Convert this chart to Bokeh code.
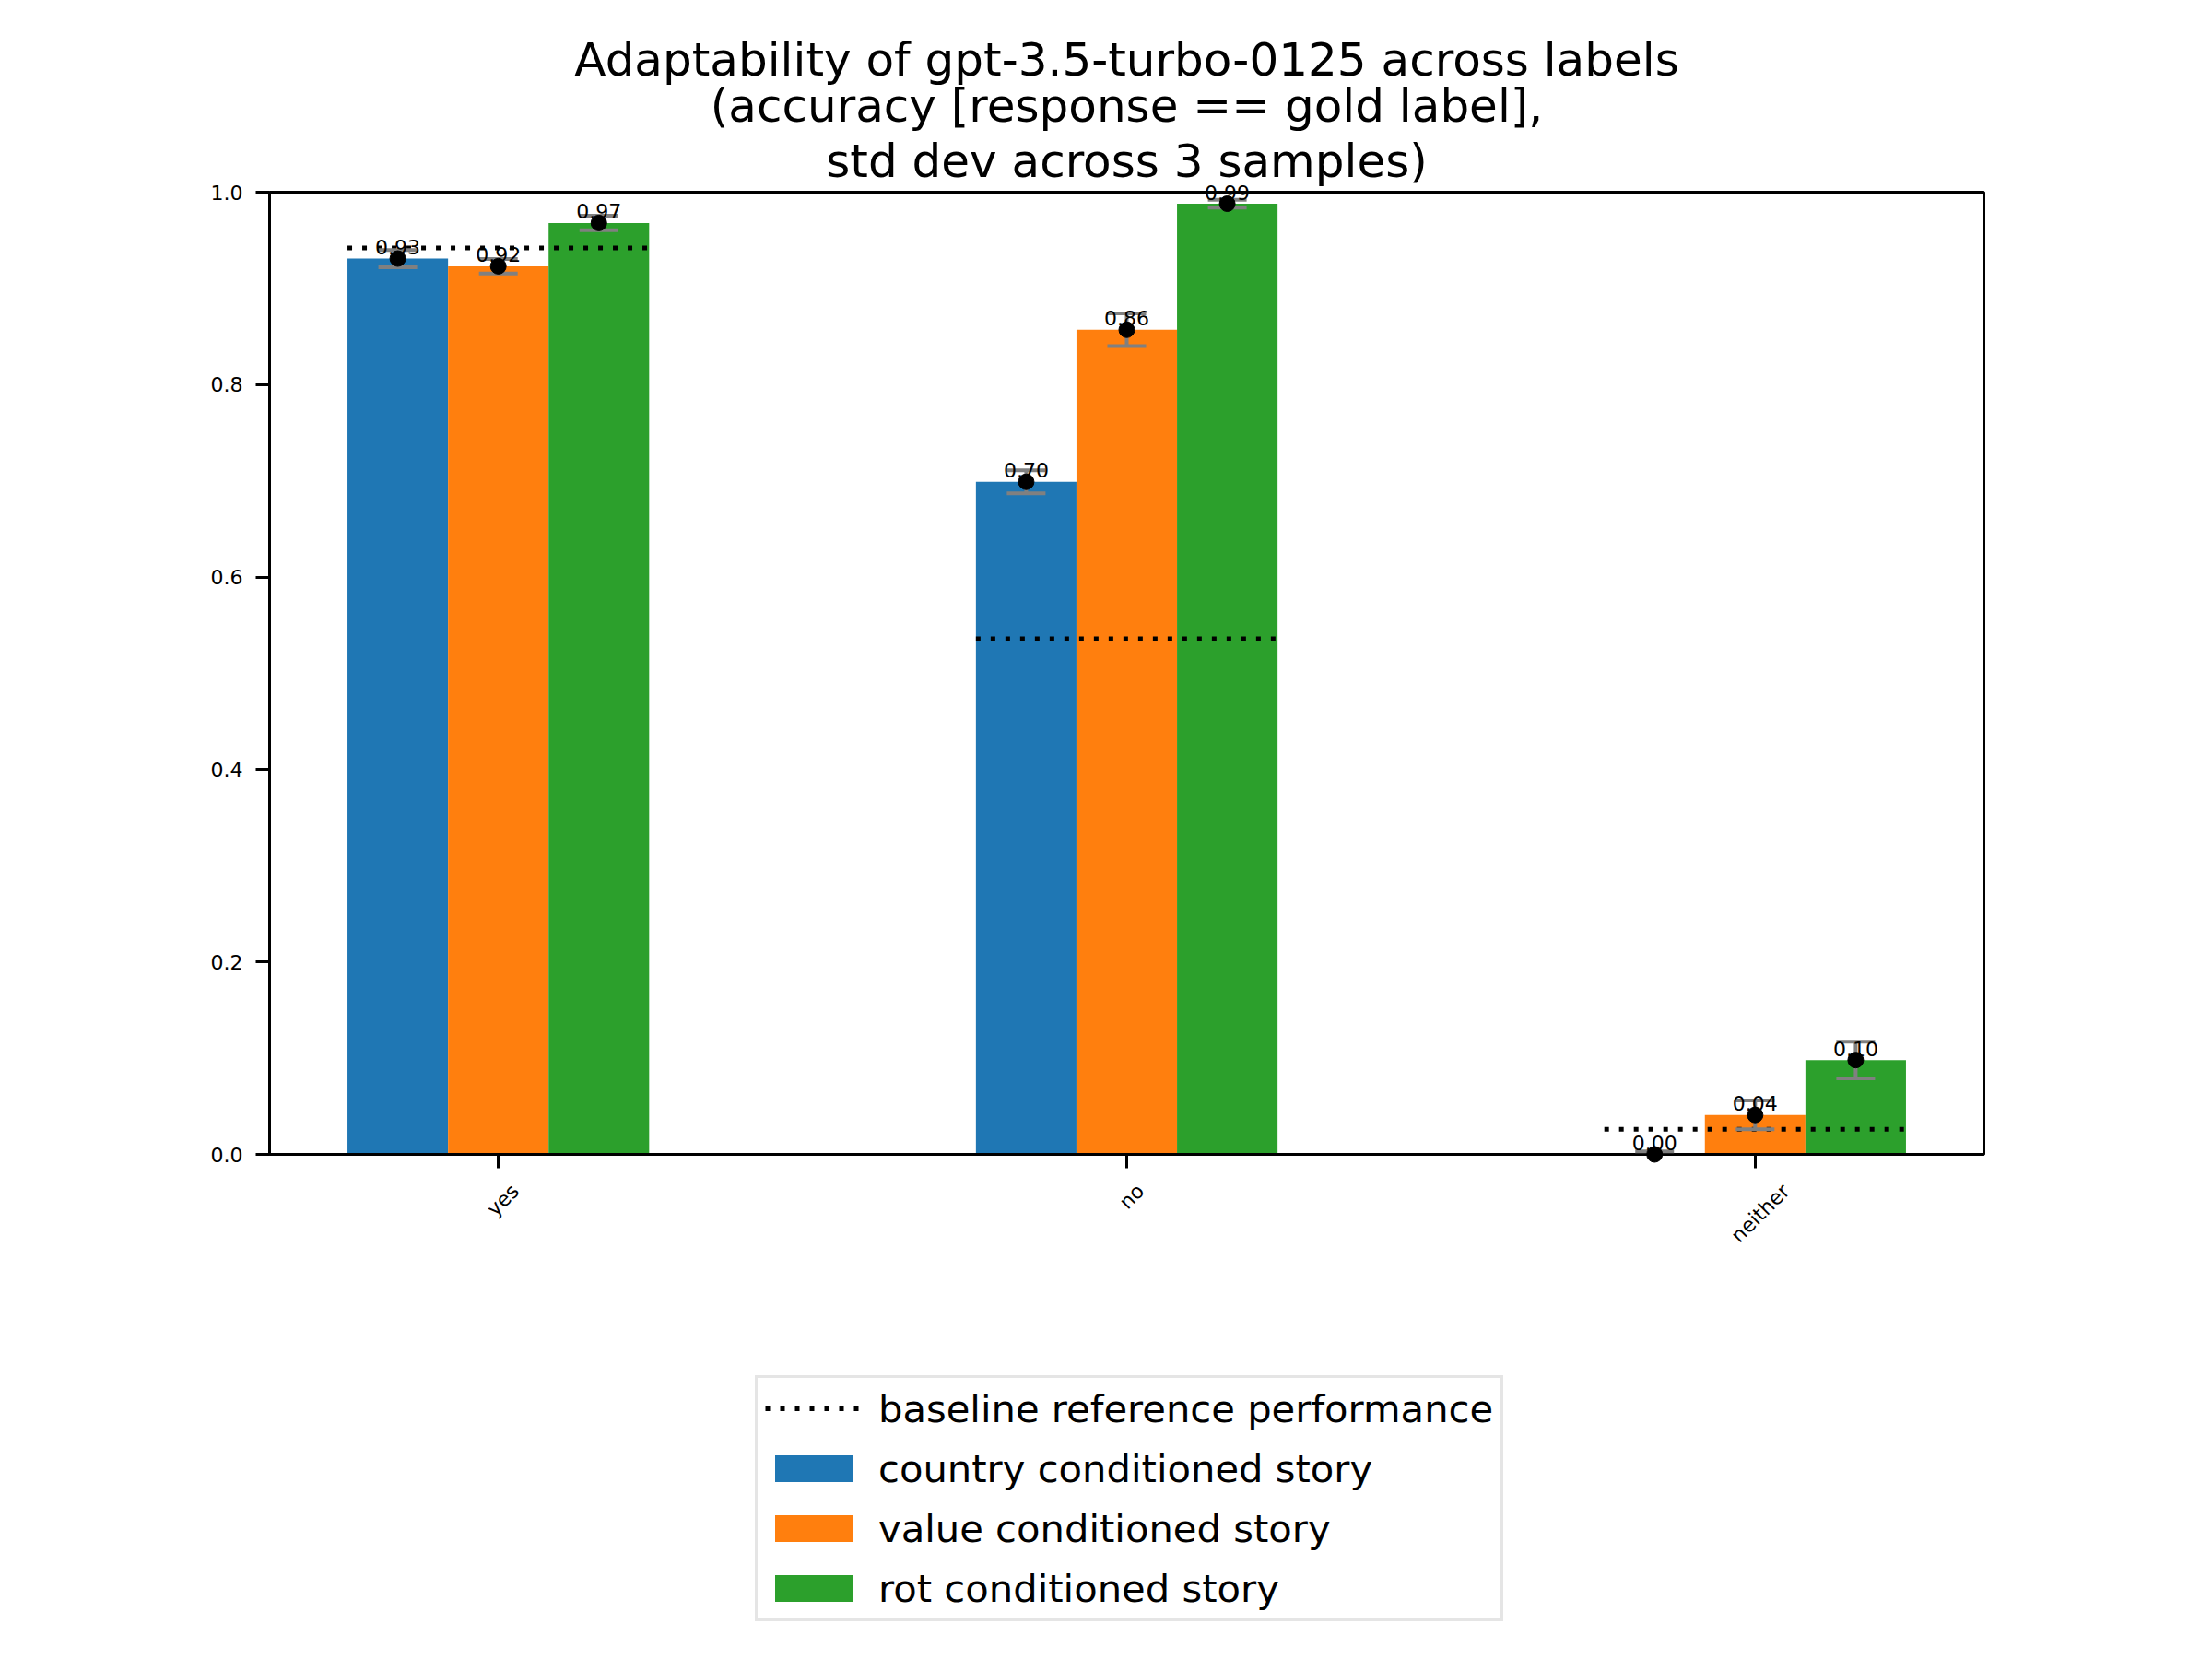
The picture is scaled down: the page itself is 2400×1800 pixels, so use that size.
import math
import numpy as np
from bokeh.plotting import figure
from bokeh.layouts import column
from bokeh.models import (ColumnDataSource, Range1d, FixedTicker, Legend, LegendItem,
                          Whisker, TeeHead, PrintfTickFormatter, Title, LinearAxis)
from bokeh.core.properties import value
from bokeh.embed import file_html
from bokeh.resources import INLINE

# ---- data ----
labels = ["yes", "no", "neither"]
series_names = ["country conditioned story", "value conditioned story", "rot conditioned story"]
baseline_name = "baseline reference performance"
country_mean = [0.931, 0.699, 0.0]
country_std = [0.009, 0.012, 0.003]
value_mean = [0.923, 0.857, 0.041]
value_std = [0.0075, 0.017, 0.015]
rot_mean = [0.968, 0.988, 0.098]
rot_std = [0.0075, 0.004, 0.019]
baseline = [0.942, 0.536, 0.026]
y_ticks = [0.0, 0.2, 0.4, 0.6, 0.8, 1.0]
title_lines = ["Adaptability of gpt-3.5-turbo-0125 across labels",
               "(accuracy [response == gold label],",
               "std dev across 3 samples)"]

# layout-only: nudge so each rotated tick label is centred under its tick
label_nudge = [0.027, 0.022, 0.049]

colors = ["#1f77b4", "#ff7f0e", "#2ca02c"]
means = [country_mean, value_mean, rot_mean]
stds = [country_std, value_std, rot_std]

bar_w = 0.16
offsets = [-bar_w, 0.0, bar_w]
xs = np.arange(len(labels), dtype=float)

FONT = "DejaVu Sans"
W = 2384
H_MAIN = 1412
H_LEG = 1784 - H_MAIN

p = figure(width=W, height=H_MAIN, output_backend="svg", toolbar_location=None,
           x_range=Range1d(-0.364, 2.364), y_range=Range1d(0, 1),
           min_border_left=292, min_border_right=232, min_border_top=208,
           min_border_bottom=H_MAIN - 208 - 1044)

# title: plot title is outermost; added titles stack outward from the frame
p.title.text = title_lines[0]
p.title.align = "center"
p.title.text_font = FONT
p.title.text_font_size = "50px"
p.title.text_font_style = "normal"
p.title.text_color = "black"
p.title.standoff = -10
for k, line in enumerate(reversed(title_lines[1:])):
    t = Title(text=line, align="center", text_font=FONT, text_font_size="50px",
              text_font_style="normal", text_color="black",
              standoff=10 if k == 0 else -10)
    p.add_layout(t, "above")

p.grid.visible = False
p.outline_line_color = "black"
p.outline_line_width = 3
p.background_fill_color = "white"
p.border_fill_color = "white"

srcs = []
for i in range(3):
    m = np.array(means[i])
    s = np.array(stds[i])
    src = ColumnDataSource(dict(
        x=xs + offsets[i], top=m, upper=m + s, lower=m - s,
        ly=m + 0.012, txt=["%.2f" % v for v in m]))
    srcs.append(src)
    p.vbar(x="x", top="top", bottom=0, width=bar_w, source=src,
           fill_color=colors[i], line_color=None)

base_src = ColumnDataSource(dict(x0=xs - 1.5 * bar_w, x1=xs + 1.5 * bar_w, y=baseline))
p.segment(x0="x0", y0="y", x1="x1", y1="y", source=base_src,
          line_color="black", line_width=5, line_dash="5 11")

for src in srcs:
    w = Whisker(base="x", upper="upper", lower="lower", source=src, dimension="height",
                line_color="#808080", line_width=4, level="annotation",
                upper_head=TeeHead(size=42, line_color="#808080", line_width=4),
                lower_head=TeeHead(size=42, line_color="#808080", line_width=4))
    p.add_layout(w)
    p.scatter(x="x", y="top", source=src, size=17, fill_color="black",
              line_color="black", level="overlay")
    p.text(x="x", y="ly", text="txt", source=src, text_font=value(FONT),
           text_font_size="22px", text_align="center", text_baseline="alphabetic",
           text_color="black", level="overlay")

for ax in (p.xaxis[0], p.yaxis[0]):
    ax.axis_line_width = 3
    ax.axis_line_color = "black"
    ax.major_tick_line_width = 3
    ax.major_tick_line_color = "black"
    ax.major_tick_out = 15
    ax.major_tick_in = 0
    ax.minor_tick_line_color = None
    ax.major_label_text_font = FONT
    ax.major_label_text_font_size = "22px"
    ax.major_label_text_color = "black"
    ax.major_label_standoff = 14

# x axis: tick marks only (its labels are not drawn)
p.xaxis[0].ticker = FixedTicker(ticks=list(xs))
p.xaxis[0].major_label_text_font_size = "1px"
p.xaxis[0].major_label_text_color = None
p.xaxis[0].major_label_standoff = 0

# second x axis: the category labels, rotated 45 degrees
lab_ticks = [float(x + d) for x, d in zip(xs, label_nudge)]
xlab = LinearAxis(ticker=FixedTicker(ticks=lab_ticks),
                  major_label_overrides={t: lab for t, lab in zip(lab_ticks, labels)},
                  major_label_orientation=math.pi / 4,
                  major_label_text_font=FONT, major_label_text_font_size="22px",
                  major_label_text_color="black", major_label_standoff=21,
                  axis_line_color=None, major_tick_line_color=None,
                  minor_tick_line_color=None, major_tick_out=0, major_tick_in=0)
p.add_layout(xlab, "below")

p.yaxis.ticker = FixedTicker(ticks=y_ticks)
p.yaxis.formatter = PrintfTickFormatter(format="%.1f")

# ---- legend panel: a second figure whose view excludes the data ----
lg = figure(width=W, height=H_LEG, output_backend="svg", toolbar_location=None,
            x_range=Range1d(100, 101), y_range=Range1d(100, 101),
            x_axis_location=None, y_axis_location=None, min_border=0)
lg.grid.visible = False
lg.outline_line_color = None
lg.background_fill_color = "white"
lg.border_fill_color = "white"

lr_base = lg.segment(x0="x0", y0="y", x1="x1", y1="y", source=base_src,
                     line_color="black", line_width=5, line_dash="5 11")
lr_bars = [lg.vbar(x="x", top="top", bottom=0, width=bar_w, source=srcs[i],
                   fill_color=colors[i], line_color=None) for i in range(3)]

legend = Legend(items=[LegendItem(label=baseline_name, renderers=[lr_base])] +
                [LegendItem(label=n, renderers=[r]) for n, r in zip(series_names, lr_bars)],
                location=(527, 25))
legend.label_text_font = FONT
legend.label_text_font_size = "41.7px"
legend.label_text_color = "black"
legend.glyph_width = 105
legend.glyph_height = 36
legend.label_height = 50
legend.label_standoff = 18
legend.padding = 8
legend.spacing = 15
legend.margin = 0
legend.border_line_color = "#cccccc"
legend.border_line_width = 3
legend.background_fill_alpha = 0.8
lg.add_layout(legend)

layout = column(p, lg, spacing=0)
open("out.html", "w").write(file_html(layout, INLINE))
